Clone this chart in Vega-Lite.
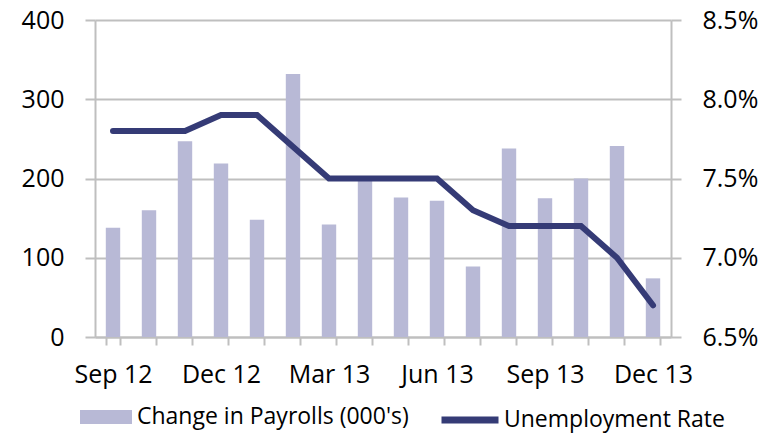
{
  "$schema": "https://vega.github.io/schema/vega-lite/v6.json",
  "autosize": "none",
  "width": 576,
  "height": 317,
  "padding": {"left": 95, "top": 20, "right": 109, "bottom": 96},
  "background": "white",
  "data": {
    "values": [
      {"month": "Sep 12", "payrolls": 138, "rate": 7.8},
      {"month": "Oct 12", "payrolls": 160, "rate": 7.8},
      {"month": "Nov 12", "payrolls": 247, "rate": 7.8},
      {"month": "Dec 12", "payrolls": 219, "rate": 7.9},
      {"month": "Jan 13", "payrolls": 148, "rate": 7.9},
      {"month": "Feb 13", "payrolls": 332, "rate": 7.7},
      {"month": "Mar 13", "payrolls": 142, "rate": 7.5},
      {"month": "Apr 13", "payrolls": 199, "rate": 7.5},
      {"month": "May 13", "payrolls": 176, "rate": 7.5},
      {"month": "Jun 13", "payrolls": 172, "rate": 7.5},
      {"month": "Jul 13", "payrolls": 89, "rate": 7.3},
      {"month": "Aug 13", "payrolls": 238, "rate": 7.2},
      {"month": "Sep 13", "payrolls": 175, "rate": 7.2},
      {"month": "Oct 13", "payrolls": 200, "rate": 7.2},
      {"month": "Nov 13", "payrolls": 241, "rate": 7.0},
      {"month": "Dec 13", "payrolls": 74, "rate": 6.7}
    ]
  },
  "encoding": {
    "x": {
      "field": "month",
      "type": "nominal",
      "sort": null,
      "scale": {"paddingInner": 0.6, "paddingOuter": 0.3},
      "axis": {
        "title": null,
        "labelAngle": 0,
        "tickBand": "extent",
        "grid": false,
        "domainColor": "#bfbfbf",
        "domainWidth": 2,
        "tickColor": "#bfbfbf",
        "tickWidth": 2,
        "tickSize": 8,
        "labelPadding": 17,
        "labelFont": "Open Sans",
        "labelFontSize": 25,
        "labelColor": "#000000",
        "labelExpr": "indexof(['Sep 12','Dec 12','Mar 13','Jun 13','Sep 13','Dec 13'], datum.value) >= 0 ? datum.value : ''"
      }
    }
  },
  "layer": [
    {
      "mark": {"type": "bar"},
      "encoding": {
        "y": {
          "field": "payrolls",
          "type": "quantitative",
          "scale": {"domain": [0, 400], "nice": false},
          "axis": {
            "title": null,
            "values": [0, 100, 200, 300, 400],
            "grid": true,
            "gridColor": "#bfbfbf",
            "gridWidth": 2,
            "domainColor": "#bfbfbf",
            "domainWidth": 2,
            "tickColor": "#bfbfbf",
            "tickWidth": 2,
            "tickSize": 10,
            "labelPadding": 21,
            "labelFont": "Open Sans",
            "labelFontSize": 25,
            "labelColor": "#000000"
          }
        },
        "fill": {
          "datum": "Change in Payrolls (000's)",
          "type": "nominal",
          "scale": {"range": ["#b8b9d6"]},
          "legend": {
            "orient": "none",
            "legendX": -15,
            "legendY": 371,
            "title": null,
            "padding": 0,
            "symbolType": "M-1,-0.27H1V0.27H-1Z",
            "symbolSize": 2704,
            "symbolStrokeWidth": 0,
            "labelOffset": 5,
            "labelFont": "Open Sans",
            "labelFontSize": 23,
            "labelColor": "#000000",
            "labelLimit": 400
          }
        }
      }
    },
    {
      "mark": {"type": "line", "strokeWidth": 6, "strokeCap": "round"},
      "encoding": {
        "y": {
          "field": "rate",
          "type": "quantitative",
          "scale": {"domain": [6.5, 8.5], "nice": false, "zero": false},
          "axis": {
            "title": null,
            "orient": "right",
            "values": [6.5, 7, 7.5, 8, 8.5],
            "grid": false,
            "domainColor": "#bfbfbf",
            "domainWidth": 2,
            "tickColor": "#bfbfbf",
            "tickWidth": 2,
            "tickSize": 10,
            "labelPadding": 21,
            "labelFont": "Open Sans",
            "labelFontSize": 25,
            "labelColor": "#000000",
            "labelExpr": "format(datum.value, '.1f') + '%'"
          }
        },
        "stroke": {
          "datum": "Unemployment Rate",
          "type": "nominal",
          "scale": {"range": ["#353b76"]},
          "legend": {
            "orient": "none",
            "legendX": 343,
            "legendY": 368,
            "title": null,
            "padding": 0,
            "symbolType": "stroke",
            "symbolSize": 3249,
            "symbolStrokeWidth": 7,
            "labelOffset": 2,
            "labelFont": "Open Sans",
            "labelFontSize": 23,
            "labelColor": "#000000",
            "labelLimit": 400
          }
        }
      }
    }
  ],
  "resolve": {"scale": {"y": "independent"}, "axis": {"y": "independent"}},
  "config": {"view": {"stroke": null}}
}
